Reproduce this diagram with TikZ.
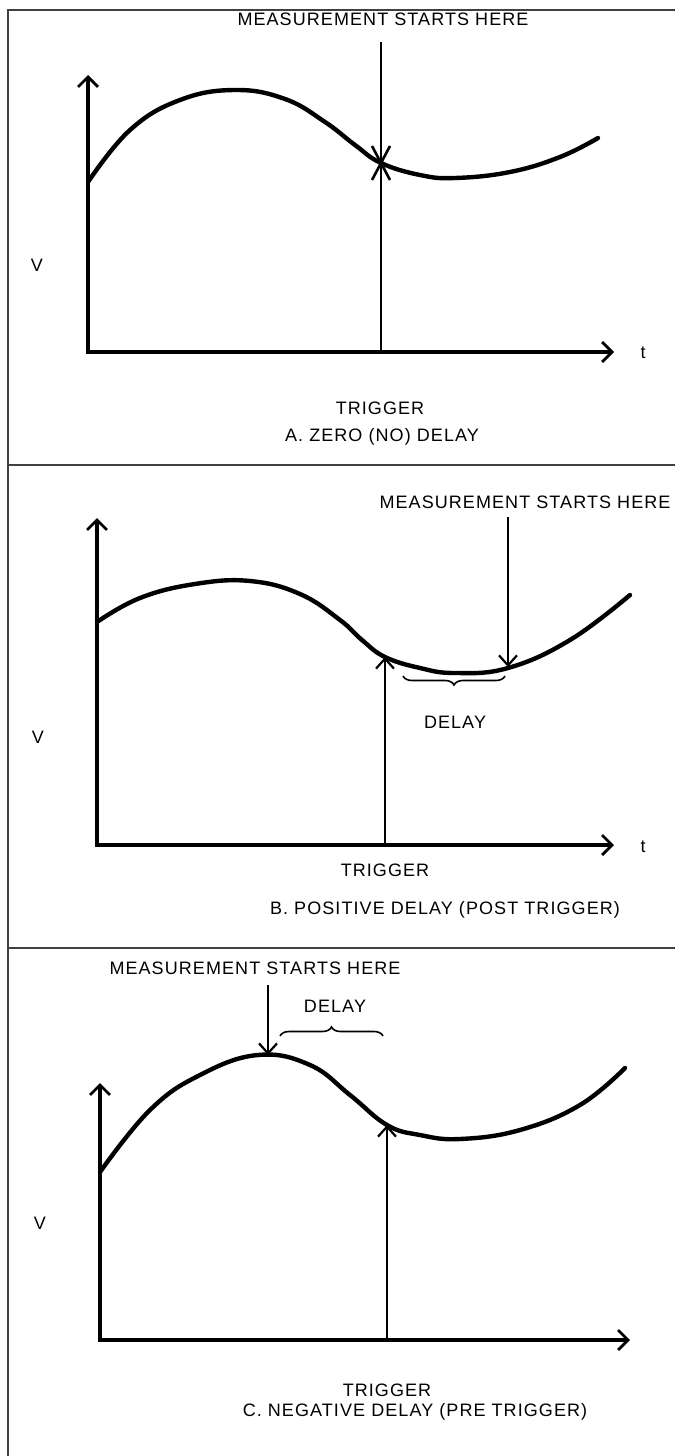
\documentclass[tikz,border=0pt]{standalone}
\usepackage{fontspec}
\setmainfont{Liberation Sans}[LetterSpace=6]
\usetikzlibrary{arrows.meta,decorations.pathreplacing}
\begin{document}
\begin{tikzpicture}[x=1pt,y=-1pt,
  lbl/.style={inner sep=0pt,font=\fontsize{18}{20}\selectfont},
  axisline/.style={line width=3.4pt,line join=miter,
    {Straight Barb[length=10pt,width=20pt,line width=2.8pt]}-{Straight Barb[length=10pt,width=20pt,line width=2.8pt]}},
  wave/.style={line width=4.4pt,line cap=round},
  thinline/.style={line width=1.8pt},
  marker/.style={line width=2pt,-{Straight Barb[length=10pt,width=18pt,line width=2.2pt]}},
  frameline/.style={line width=1.3pt,black!75},
  bracestyle/.style={line width=1.6pt,decorate,decoration={brace,amplitude=9pt}}]
\useasboundingbox (0,0) rectangle (675,1456);
% frame
\draw[frameline] (8,1456) -- (8,10) -- (675,10);
\draw[frameline] (8,465) -- (675,465);
\draw[frameline] (8,948) -- (675,948);

% ---------- Panel A ----------
\coordinate (Ay) at (88,75);
\coordinate (Ao) at (88,352);
\coordinate (Ax) at (614,352);
\draw[axisline] (Ay) -- (Ao) -- (Ax);
\draw[wave] plot[smooth,tension=0.7] coordinates {(88,182) (130,130) (180,100) (235,90) (285,99) (325,122) (355,145) (381,163) (420,175) (455,178) (510,172) (560,157) (598,138)};
\coordinate (Atop) at (381,42);
\coordinate (Ac) at (381,163);
\coordinate (Abot) at (381,352);
\draw[thinline] (Atop) -- (Abot);
\draw[line width=2.6pt] ([shift={(-9,-17)}]Ac) -- ([shift={(9,17)}]Ac);
\draw[line width=2.6pt] ([shift={(9,-17)}]Ac) -- ([shift={(-9,17)}]Ac);
\node[lbl] (Ameas) at (383,19) {MEASUREMENT STARTS HERE};
\node[lbl] (AV) at (37,265) {V};
\node[lbl] (At) at (643,353) {t};
\node[lbl] (Atrig) at (380,408) {TRIGGER};
\node[lbl] (Acap) at (382,437) {A. ZERO (NO) DELAY};

% ---------- Panel B ----------
\coordinate (By) at (97,518);
\coordinate (Bo) at (97,845);
\coordinate (Bx) at (614,845);
\draw[axisline] (By) -- (Bo) -- (Bx);
\draw[wave] plot[smooth,tension=0.7] coordinates {(97,622) (140,598) (195,584) (250,581) (300,594) (340,620) (362,640) (385,657) (420,668) (455,673) (508,668) (570,640) (630,595)};
\coordinate (Btop) at (508,517);
\coordinate (Bm) at (508,667);
\coordinate (Bbot) at (385,845);
\coordinate (Bt) at (385,657);
\draw[marker] (Btop) -- (Bm);
\draw[marker] (Bbot) -- (Bt);
\coordinate (Bbl) at (505,676);
\coordinate (Bbr) at (403,676);
\draw[bracestyle] (Bbl) -- (Bbr);
\node[lbl] (Bmeas) at (525,502) {MEASUREMENT STARTS HERE};
\node[lbl] (Bdelay) at (455,722) {DELAY};
\node[lbl] (BV) at (38,737) {V};
\node[lbl] (Bt2) at (643,847) {t};
\node[lbl] (Btrig) at (385,870) {TRIGGER};
\node[lbl] (Bcap) at (445,910) {B. POSITIVE DELAY (POST TRIGGER)};

% ---------- Panel C ----------
\coordinate (Cy) at (100,1083);
\coordinate (Co) at (100,1340);
\coordinate (Cx) at (630,1340);
\draw[axisline] (Cy) -- (Co) -- (Cx);
\draw[wave] plot[smooth,tension=0.7] coordinates {(100,1172) (150,1110) (200,1075) (258,1055) (310,1065) (350,1095) (387,1125) (420,1135) (460,1139) (520,1130) (580,1105) (625,1068)};
\coordinate (Ctop) at (268,985);
\coordinate (Cm) at (268,1055);
\coordinate (Cbot) at (387,1340);
\coordinate (Ct) at (387,1125);
\draw[marker] (Ctop) -- (Cm);
\draw[marker] (Cbot) -- (Ct);
\coordinate (Cbl) at (280,1036);
\coordinate (Cbr) at (383,1036);
\draw[bracestyle] (Cbl) -- (Cbr);
\node[lbl] (Cmeas) at (255,968) {MEASUREMENT STARTS HERE};
\node[lbl] (Cdelay) at (335,1006) {DELAY};
\node[lbl] (CV) at (40,1223) {V};
\node[lbl] (Ctrig) at (387,1390) {TRIGGER};
\node[lbl] (Ccap) at (415,1412) {C. NEGATIVE DELAY (PRE TRIGGER)};
\end{tikzpicture}
\end{document}
